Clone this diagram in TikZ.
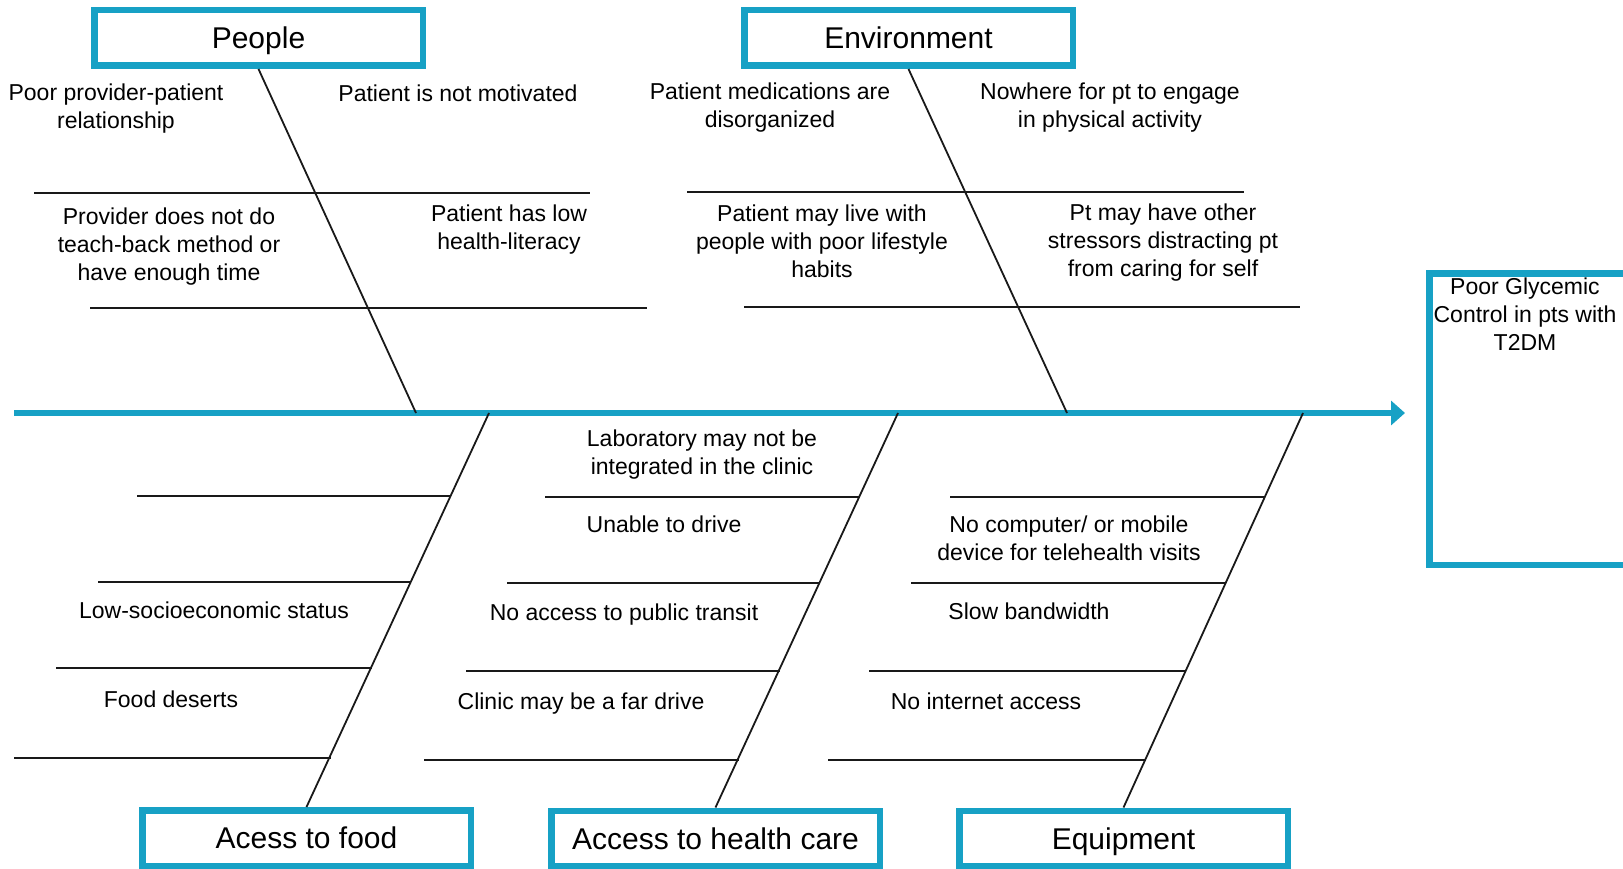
\documentclass[tikz,border=0pt]{standalone}
\usepackage{fontspec}
\setmainfont{Liberation Sans}
\usetikzlibrary{arrows.meta}
\definecolor{fishblue}{RGB}{23,161,197}
\definecolor{ink}{RGB}{25,25,25}
\begin{document}
\begin{tikzpicture}[x=1pt,y=-1pt,
  catbox/.style={draw=fishblue,fill=white,line width=6.5pt,minimum width=328.5pt,
    minimum height=55.5pt,inner sep=0pt,font=\fontsize{30}{36}\selectfont,
    text height=21.5pt,text depth=0pt},
  cause/.style={align=center,inner sep=0pt,anchor=north,
    font=\fontsize{23}{28}\selectfont,execute at begin node=\strut},
  bone/.style={draw=ink,line width=1.8pt},
  rib/.style={draw=ink,line width=1.8pt},
  spine/.style={draw=fishblue,line width=6pt,-{Triangle[length=14pt,width=24pt]}}]
\useasboundingbox (0,0) rectangle (1623,869);

% spine of the fishbone
\coordinate (tail) at (14,413);
\coordinate (head) at (1405,413);
\draw[spine] (tail) -- (head);

% effect box (runs off the right edge)
\node[draw=fishblue,line width=6.5pt,minimum width=210pt,minimum height=291.5pt,
  inner sep=0pt,anchor=north west] (eff) at (1426.25,270.25) {};
\node[cause] (efftext) at (1525,278) {Poor Glycemic\\Control in pts with\\T2DM};

% category boxes
\node[catbox] (peo) at (258.5,38) {People};
\node[catbox] (env) at (908.5,38) {Environment};
\node[catbox] (food) at (306.5,838) {Acess to food};
\node[catbox] (hc) at (715.5,838.5) {Access to health care};
\node[catbox] (eq) at (1123.5,838.5) {Equipment};

% joints of the bones on the spine
\coordinate (pj) at (416,413);
\coordinate (ej) at (1067,413);
\coordinate (fj) at (489,413);
\coordinate (hj) at (898,413);
\coordinate (qj) at (1303,413);

% bones
\draw[bone] (peo.south) -- (pj);
\draw[bone] (env.south) -- (ej);
\draw[bone] (fj) -- (food.north);
\draw[bone] (hj) -- (hc.north);
\draw[bone] (qj) -- (eq.north);

% ribs: upper half
\draw[rib] (34,193) -- (590,193);
\draw[rib] (90,308) -- (647,308);
\draw[rib] (687,192) -- (1244,192);
\draw[rib] (744,307) -- (1300,307);

% ribs: food
\draw[rib] (137,496) -- (450.9,496);
\draw[rib] (98,582) -- (411.4,582);
\draw[rib] (56,668) -- (371.9,668);
\draw[rib] (14,758) -- (330.5,758);

% ribs: health care
\draw[rib] (545,497) -- (859.4,497);
\draw[rib] (507,583) -- (819.9,583);
\draw[rib] (466,671) -- (779.5,671);
\draw[rib] (424,760) -- (738.6,760);

% ribs: equipment
\draw[rib] (950,497) -- (1265,497);
\draw[rib] (911,583) -- (1226.2,583);
\draw[rib] (869,671) -- (1186.4,671);
\draw[rib] (828,760) -- (1146.2,760);

% causes: people
\node[cause] (p1) at (116,83.5) {Poor provider-patient\\relationship};
\node[cause] (p2) at (458,81.5) {Patient is not motivated};
\node[cause] (p3) at (169,207.5) {Provider does not do\\teach-back method or\\have enough time};
\node[cause] (p4) at (509,205) {Patient has low\\health-literacy};

% causes: environment
\node[cause] (e1) at (770,83) {Patient medications are\\disorganized};
\node[cause] (e2) at (1110,83) {Nowhere for pt to engage\\in physical activity};
\node[cause] (e3) at (822,204.5) {Patient may live with\\people with poor lifestyle\\habits};
\node[cause] (e4) at (1163,203.5) {Pt may have other\\stressors distracting pt\\from caring for self};

% causes: access to food
\node[cause] (f1) at (214,599) {Low-socioeconomic status};
\node[cause] (f2) at (171,688) {Food deserts};

% causes: access to health care
\node[cause] (h1) at (702,429.5) {Laboratory may not be\\integrated in the clinic};
\node[cause] (h2) at (664,513) {Unable to drive};
\node[cause] (h3) at (624,601) {No access to public transit};
\node[cause] (h4) at (581,690) {Clinic may be a far drive};

% causes: equipment
\node[cause] (q1) at (1069,516) {No computer/ or mobile\\device for telehealth visits};
\node[cause] (q2) at (1029,600) {Slow bandwidth};
\node[cause] (q3) at (986,690) {No internet access};
\end{tikzpicture}
\end{document}
